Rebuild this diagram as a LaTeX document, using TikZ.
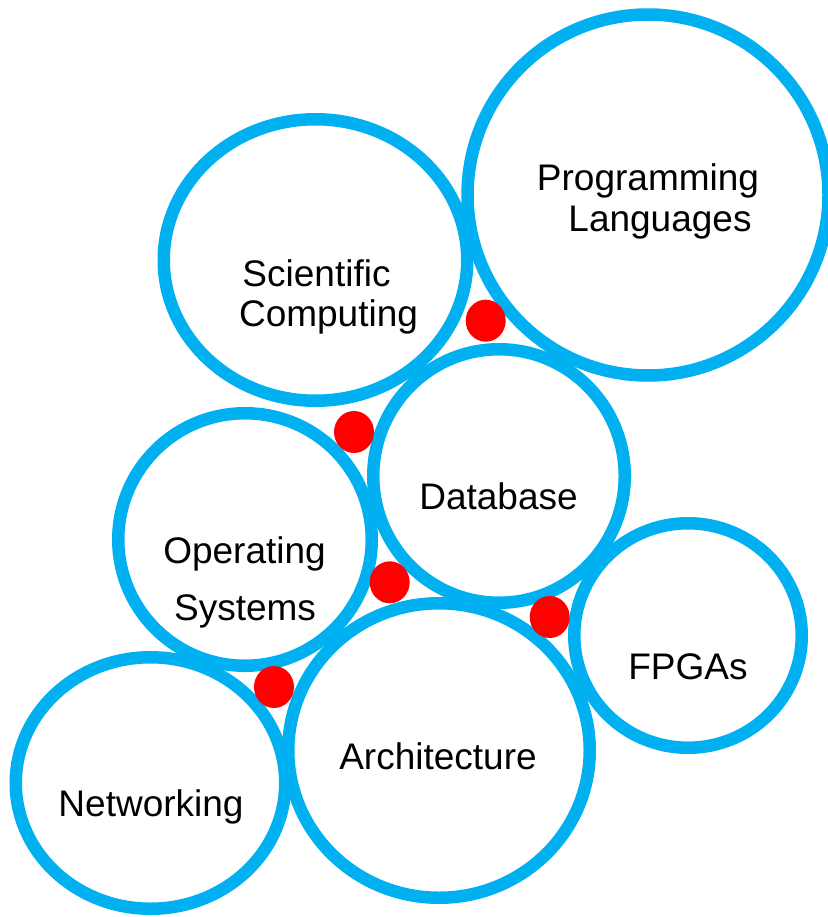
\documentclass[tikz,border=0pt]{standalone}
\usepackage{fontspec}
\setmainfont{Liberation Sans}
\definecolor{ringblue}{HTML}{00B0F0}
\definecolor{dotred}{HTML}{FF0000}
\tikzset{
  ring/.style={draw=ringblue, line width=12.5pt},
  dot/.style={fill=dotred},
  lbl/.style={anchor=base, inner sep=0pt, font=\fontsize{37}{40}\selectfont}
}
\begin{document}
\begin{tikzpicture}[x=1pt,y=-1pt]
\useasboundingbox (0,0) rectangle (827,917);
% rings
\draw[ring] (648,195) ellipse [x radius=180.5pt, y radius=180.5pt];
\draw[ring] (315.5,260) ellipse [x radius=151.75pt, y radius=140.75pt];
\draw[ring] (499,476) ellipse [x radius=125.75pt, y radius=126.75pt];
\draw[ring] (245,539.5) ellipse [x radius=126.75pt, y radius=126.25pt];
\draw[ring] (688,635.5) ellipse [x radius=113.75pt, y radius=112.25pt];
\draw[ring] (439,750.5) ellipse [x radius=150.75pt, y radius=147.25pt];
\draw[ring] (150.5,783) ellipse [x radius=134.75pt, y radius=125.75pt];
% dots
\fill[dot] (485.7,320.7) ellipse [x radius=20pt, y radius=21pt];
\fill[dot] (354,432) ellipse [x radius=20pt, y radius=21pt];
\fill[dot] (389.7,582.3) ellipse [x radius=20pt, y radius=21pt];
\fill[dot] (549.7,617) ellipse [x radius=20pt, y radius=21pt];
\fill[dot] (274,687) ellipse [x radius=20pt, y radius=21pt];
% labels
\node[lbl] (pl1) at (648,191) {Programming};
\node[lbl] (pl2) at (660,231) {Languages};
\node[lbl] (sc1) at (316.5,286) {Scientific};
\node[lbl] (sc2) at (328.5,326) {Computing};
\node[lbl] (db) at (498.5,509) {Database};
\node[lbl] (os1) at (244.5,563) {Operating};
\node[lbl] (os2) at (245,620) {Systems};
\node[lbl] (fp) at (688,679) {FPGAs};
\node[lbl] (ar) at (438,769) {Architecture};
\node[lbl] (nw) at (151,816) {Networking};
\end{tikzpicture}
\end{document}
